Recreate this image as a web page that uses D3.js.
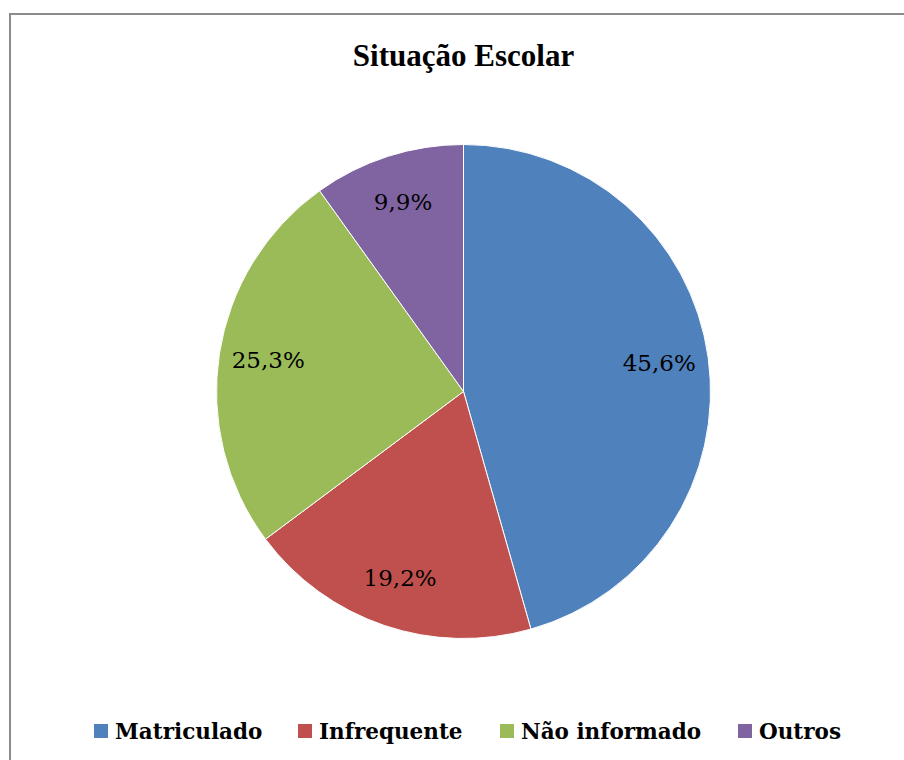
<!DOCTYPE html>
<html>
<head>
<meta charset="utf-8">
<script src="https://cdn.jsdelivr.net/npm/d3@7"></script>
<style>
  body { margin: 0; background: #fff; }
  svg { display: block; }
</style>
</head>
<body>
<div id="chart"></div>
<script>
const categories = ["Matriculado", "Infrequente", "Não informado", "Outros"];
const values = [45.6, 19.2, 25.3, 9.9];
const labels = ["45,6%", "19,2%", "25,3%", "9,9%"];
const colors = ["#4F81BD", "#C0504D", "#9BBB59", "#8064A2"];

const width = 904;
const height = 760;
const cx = 463.5;
const cy = 391.5;
const radius = 247;

const svg = d3.select("#chart")
    .append("svg")
    .attr("width", width)
    .attr("height", height);

// chart frame (right/bottom edges fall outside the picture)
svg.append("rect")
    .attr("x", 10)
    .attr("y", 14)
    .attr("width", 920)
    .attr("height", 800)
    .attr("fill", "none")
    .attr("stroke", "#8c8c8c")
    .attr("stroke-width", 2);

svg.append("text")
    .attr("x", cx)
    .attr("y", 66)
    .attr("text-anchor", "middle")
    .attr("font-family", "'Liberation Serif', 'Times New Roman', serif")
    .attr("font-weight", "bold")
    .attr("font-size", 31)
    .text("Situação Escolar");

const color = d3.scaleOrdinal().domain(categories).range(colors);

const pie = d3.pie().sort(null).value(d => d.value);
const data = categories.map((c, i) => ({ name: c, value: values[i], label: labels[i] }));
const arcs = pie(data);

const arc = d3.arc().innerRadius(0).outerRadius(radius);
const labelArc = d3.arc().innerRadius(radius * 0.8).outerRadius(radius * 0.8);

const g = svg.append("g").attr("transform", `translate(${cx},${cy})`);

g.selectAll("path")
    .data(arcs)
    .join("path")
    .attr("d", arc)
    .attr("fill", d => color(d.data.name))
    .attr("stroke", "#fff")
    .attr("stroke-width", 1);

g.selectAll("text")
    .data(arcs)
    .join("text")
    .attr("transform", d => `translate(${labelArc.centroid(d)})`)
    .attr("text-anchor", "middle")
    .attr("dy", "0.3em")
    .attr("font-family", "'DejaVu Serif', serif")
    .attr("font-size", 23)
    .attr("fill", "#000")
    .text(d => d.data.label);

// legend
const legendX = [94, 298, 500, 738];
const legend = svg.append("g");
const item = legend.selectAll("g")
    .data(categories)
    .join("g")
    .attr("transform", (d, i) => `translate(${legendX[i]},724)`);

item.append("rect")
    .attr("width", 14)
    .attr("height", 14)
    .attr("fill", d => color(d));

item.append("text")
    .attr("x", 21)
    .attr("y", 15)
    .attr("font-family", "'DejaVu Serif', serif")
    .attr("font-weight", "bold")
    .attr("font-size", 21.5)
    .attr("fill", "#000")
    .text(d => d);
</script>
</body>
</html>
